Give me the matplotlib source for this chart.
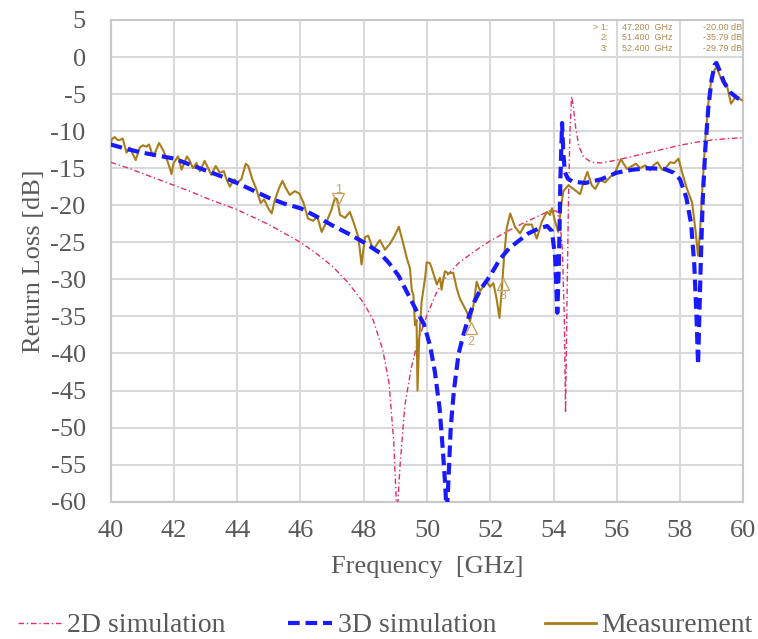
import matplotlib
matplotlib.use("Agg")
import matplotlib.pyplot as plt
from matplotlib.lines import Line2D

# ---------------- data ----------------
freq_2d = [40.0, 40.5, 41.0, 41.5, 42.0, 42.5, 43.0, 43.5, 44.0, 44.5, 45.0, 45.5, 46.0,
           46.5, 47.0, 47.5, 48.0, 48.3, 48.6, 48.8, 48.95, 49.05, 49.15, 49.3, 49.5, 49.7,
           50.0, 50.3, 50.6, 51.0, 51.5, 52.0, 52.5, 53.0, 53.5, 53.9, 54.1, 54.2, 54.28,
           54.34, 54.38, 54.42, 54.47, 54.52, 54.57, 54.62, 54.7, 54.8, 54.95, 55.2, 55.5,
           56.0, 56.5, 57.0, 57.5, 58.0, 58.5, 59.0, 59.5, 60.0]
rl_2d = [-14.2, -14.9, -15.7, -16.5, -17.3, -18.1, -19.0, -19.8, -20.6, -21.6, -22.6, -23.8,
         -25.0, -26.5, -28.2, -30.4, -33.2, -35.5, -39.5, -44.0, -52.0, -62.0, -55.0, -47.0,
         -42.0, -38.5, -34.8, -31.8, -29.6, -27.8, -26.2, -24.8, -23.6, -22.5, -21.5, -20.7,
         -20.8, -22.0, -26.0, -35.0, -48.0, -35.0, -20.0, -10.0, -5.3, -6.5, -9.5, -12.0,
         -13.5, -14.2, -14.3, -13.9, -13.4, -12.9, -12.4, -11.9, -11.5, -11.2, -11.0, -10.9]

freq_3d = [40.0, 40.5, 41.0, 41.5, 42.0, 42.5, 43.0, 43.5, 44.0, 44.5, 45.0, 45.5, 46.0,
           46.5, 47.0, 47.5, 48.0, 48.5, 48.8, 49.1, 49.4, 49.7, 49.9, 50.1, 50.25, 50.4,
           50.5, 50.58, 50.62, 50.68, 50.75, 50.85, 51.0, 51.15, 51.3, 51.5, 51.7, 52.0,
           52.3, 52.6, 52.9, 53.2, 53.5, 53.8, 53.95, 54.05, 54.12, 54.17, 54.22, 54.27,
           54.31, 54.36, 54.45, 54.6, 55.0, 55.5, 56.0, 56.5, 57.0, 57.5, 57.8, 58.0, 58.2,
           58.35, 58.45, 58.52, 58.57, 58.61, 58.66, 58.72, 58.8, 58.9, 59.0, 59.1, 59.15,
           59.25, 59.4, 59.6, 59.8, 60.0]
rl_3d = [-11.8, -12.4, -12.9, -13.3, -13.7, -14.5, -15.3, -16.1, -17.0, -18.0, -19.0, -19.8,
         -20.4, -21.5, -22.7, -23.8, -25.0, -26.4, -27.8, -29.5, -32.0, -34.5, -36.0, -39.0,
         -42.5, -47.5, -53.0, -58.0, -62.0, -57.0, -50.0, -45.0, -40.0, -37.5, -35.3, -33.0,
         -31.3, -29.5, -27.3, -25.8, -24.8, -23.8, -23.2, -22.8, -23.5, -27.0, -34.5, -28.0,
         -16.0, -8.9, -13.0, -15.5, -16.4, -16.8, -17.0, -16.5, -15.6, -15.2, -15.0, -15.1,
         -15.6, -16.5, -19.0, -22.5, -28.0, -35.0, -41.5, -35.0, -27.0, -19.0, -12.3, -6.5,
         -3.0, -1.0, -0.8, -1.8, -3.5, -4.8, -5.5, -5.9]

freq_meas = [40.00, 40.05, 40.13, 40.22, 40.28, 40.38, 40.50, 40.60, 40.79, 40.92, 41.02,
             41.13, 41.21, 41.34, 41.42, 41.53, 41.65, 41.76, 41.87, 41.92, 41.99, 42.13,
             42.24, 42.41, 42.50, 42.60, 42.71, 42.82, 42.97, 43.08, 43.18, 43.32, 43.45,
             43.58, 43.66, 43.77, 43.87, 43.92, 43.98, 44.13, 44.27, 44.35, 44.48, 44.61,
             44.74, 44.85, 44.98, 45.09, 45.19, 45.32, 45.43, 45.54, 45.66, 45.82, 45.96,
             46.09, 46.24, 46.40, 46.53, 46.67, 46.83, 46.98, 47.09, 47.16, 47.25, 47.41,
             47.56, 47.67, 47.83, 47.93, 48.04, 48.14, 48.30, 48.51, 48.67, 48.83, 48.99,
             49.11, 49.25, 49.36, 49.46, 49.52, 49.57, 49.62, 49.67, 49.70, 49.75, 49.83,
             49.94, 49.99, 50.09, 50.15, 50.31, 50.41, 50.46, 50.52, 50.57, 50.67, 50.83,
             50.94, 51.04, 51.15, 51.26, 51.36, 51.47, 51.57, 51.68, 51.78, 51.89, 51.99,
             52.10, 52.20, 52.29, 52.36, 52.44, 52.52, 52.63, 52.78, 52.94, 53.10, 53.31,
             53.47, 53.63, 53.79, 53.89, 53.95, 54.05, 54.15, 54.26, 54.31, 54.47, 54.63,
             54.84, 54.95, 55.07, 55.21, 55.32, 55.47, 55.63, 55.79, 55.95, 56.13, 56.32,
             56.48, 56.61, 56.74, 56.90, 57.06, 57.16, 57.29, 57.43, 57.56, 57.69, 57.82,
             57.95, 58.06, 58.22, 58.38, 58.48, 58.57, 58.64, 58.70, 58.80, 58.91, 59.01,
             59.15, 59.33, 59.46, 59.53, 59.61, 59.75, 59.96, 60.00]
rl_meas = [-11.6, -11.0, -10.8, -11.2, -11.2, -11.0, -12.9, -12.2, -13.9, -12.2, -11.9,
           -12.1, -11.8, -13.4, -12.7, -11.6, -12.5, -13.6, -15.0, -15.8, -14.3, -13.4,
           -15.2, -13.4, -14.0, -15.0, -14.3, -15.4, -14.0, -15.0, -15.9, -14.7, -15.6,
           -15.4, -16.5, -17.5, -16.7, -16.5, -17.0, -16.5, -14.4, -14.7, -16.5, -17.9,
           -19.7, -19.2, -20.4, -21.1, -19.3, -17.7, -16.7, -17.7, -18.6, -18.1, -18.4,
           -19.6, -21.8, -22.1, -21.5, -23.6, -22.2, -20.6, -19.0, -19.2, -21.3, -21.7,
           -20.9, -22.2, -24.3, -28.0, -24.3, -24.1, -26.0, -24.7, -26.0, -25.2, -24.0,
           -22.9, -25.2, -27.1, -28.5, -31.5, -32.1, -36.2, -35.5, -45.0, -38.4, -33.0,
           -29.8, -27.7, -27.8, -28.5, -30.7, -29.8, -31.4, -29.8, -28.9, -29.2, -29.1,
           -31.2, -32.6, -33.5, -34.4, -35.7, -33.5, -30.3, -31.6, -30.9, -30.3, -31.0,
           -30.5, -32.6, -35.2, -31.6, -26.8, -23.1, -21.1, -22.9, -23.8, -22.6, -22.6,
           -24.5, -22.2, -20.9, -21.3, -20.4, -22.2, -23.6, -19.5, -18.1, -17.3, -17.8,
           -18.5, -16.9, -15.5, -17.3, -17.8, -16.6, -16.9, -16.2, -15.5, -13.8, -15.1,
           -14.7, -14.4, -15.0, -14.6, -15.3, -14.6, -14.2, -15.2, -14.9, -14.2, -14.3,
           -13.7, -15.5, -17.8, -19.6, -23.1, -26.8, -23.1, -18.2, -11.1, -5.6, -2.4,
           -1.3, -3.3, -3.5, -4.7, -6.3, -5.4, -5.8, -5.9]

marker_ids = ["1", "2", "3"]
marker_freq = [47.2, 51.4, 52.4]
marker_val = [-20.00, -35.79, -29.79]
marker_prefix = ["> 1:", "2:", "3:"]

series_names = ["2D simulation", "3D simulation", "Measurement"]
x_ticks = [40, 42, 44, 46, 48, 50, 52, 54, 56, 58, 60]
y_ticks = [5, 0, -5, -10, -15, -20, -25, -30, -35, -40, -45, -50, -55, -60]

# ---------------- style ----------------
TXT = "#595959"
GRID = "#d9d9d9"
C2D = "#e0306a"
C3D = "#1a1aff"
CMEAS = "#a87d1c"
CMARK = "#c9a466"
CTAB = "#b08b4f"
LS2D = (0, (4, 2, 1, 2))
LS3D = (0, (2.8, 1.4))

plt.rcParams["font.family"] = ["Liberation Serif", "DejaVu Serif"]

W, H = 758, 639
fig = plt.figure(figsize=(W / 100, H / 100), dpi=100)
ax = fig.add_axes([110.7 / W, 1 - 501.7 / H, (743.3 - 110.7) / W, (501.7 - 20) / H])

ax.plot(freq_2d, rl_2d, color=C2D, lw=1.0, linestyle=LS2D, zorder=3)
ax.plot(freq_meas, rl_meas, color=CMEAS, lw=1.5, zorder=4)
ax.plot(freq_3d, rl_3d, color=C3D, lw=3.0, linestyle=LS3D, zorder=5)

# markers (triangles) and labels
mk_y = [-19.2, -36.6, -30.6]
mk_lab_y = [-17.9, -38.4, -32.3]
mk_shape = ["v", "^", "^"]
for i in range(3):
    ax.plot([marker_freq[i]], [mk_y[i]], marker=mk_shape[i], ms=9, mfc="none", mec=CMARK,
            mew=1.0, zorder=6)
    ax.text(marker_freq[i], mk_lab_y[i], marker_ids[i], color=CMARK, fontsize=9, ha="center",
            va="center", family=["Liberation Sans"], zorder=6)

# marker table
row_y = [27.3, 38.0, 48.5]
for i in range(3):
    yy = 1 - row_y[i] / H
    fig.text(608 / W, yy, marker_prefix[i], color=CTAB, fontsize=6.5, ha="right", va="center",
             family=["Liberation Sans"])
    fig.text(622 / W, yy, f"{marker_freq[i]:.3f}  GHz", color=CTAB, fontsize=6.5, ha="left",
             va="center", family=["Liberation Sans"])
    fig.text(742 / W, yy, f"{marker_val[i]:.2f} dB", color=CTAB, fontsize=6.5, ha="right",
             va="center", family=["Liberation Sans"])

ax.set_xlim(40, 60)
ax.set_ylim(-60, 5)
ax.set_xticks(x_ticks)
ax.set_yticks(y_ticks)
ax.set_xticklabels([str(t) for t in x_ticks])
ax.set_yticklabels([str(t) for t in y_ticks])
ax.grid(True, color=GRID, lw=1.5)
ax.set_axisbelow(True)
for s in ax.spines.values():
    s.set_color("#c8c8c8")
    s.set_linewidth(1.5)
ax.tick_params(axis="both", length=0, labelsize=19, labelcolor=TXT)
ax.tick_params(axis="x", pad=13)
ax.tick_params(axis="y", pad=18)

ax.set_xlabel("Frequency  [GHz]", fontsize=19, color=TXT, labelpad=10)
ax.set_ylabel("Return Loss [dB]", fontsize=19, color=TXT, labelpad=4)

# legend, laid out by hand in figure pixels
leg_y = 1 - 623 / H
handle_px = [(18, 62), (288, 332), (545, 596)]
text_px = [67, 338, 601]
styles = [dict(color=C2D, lw=1.0, linestyle=LS2D),
          dict(color=C3D, lw=3.0, linestyle=LS3D),
          dict(color=CMEAS, lw=2.0, linestyle="-")]
for i in range(3):
    x0, x1 = handle_px[i]
    fig.add_artist(Line2D([x0 / W, x1 / W], [leg_y, leg_y], transform=fig.transFigure,
                          **styles[i]))
    fig.text(text_px[i] / W, leg_y, series_names[i], fontsize=20, color=TXT, ha="left",
             va="center_baseline")

fig.savefig("out.png", dpi=100)
